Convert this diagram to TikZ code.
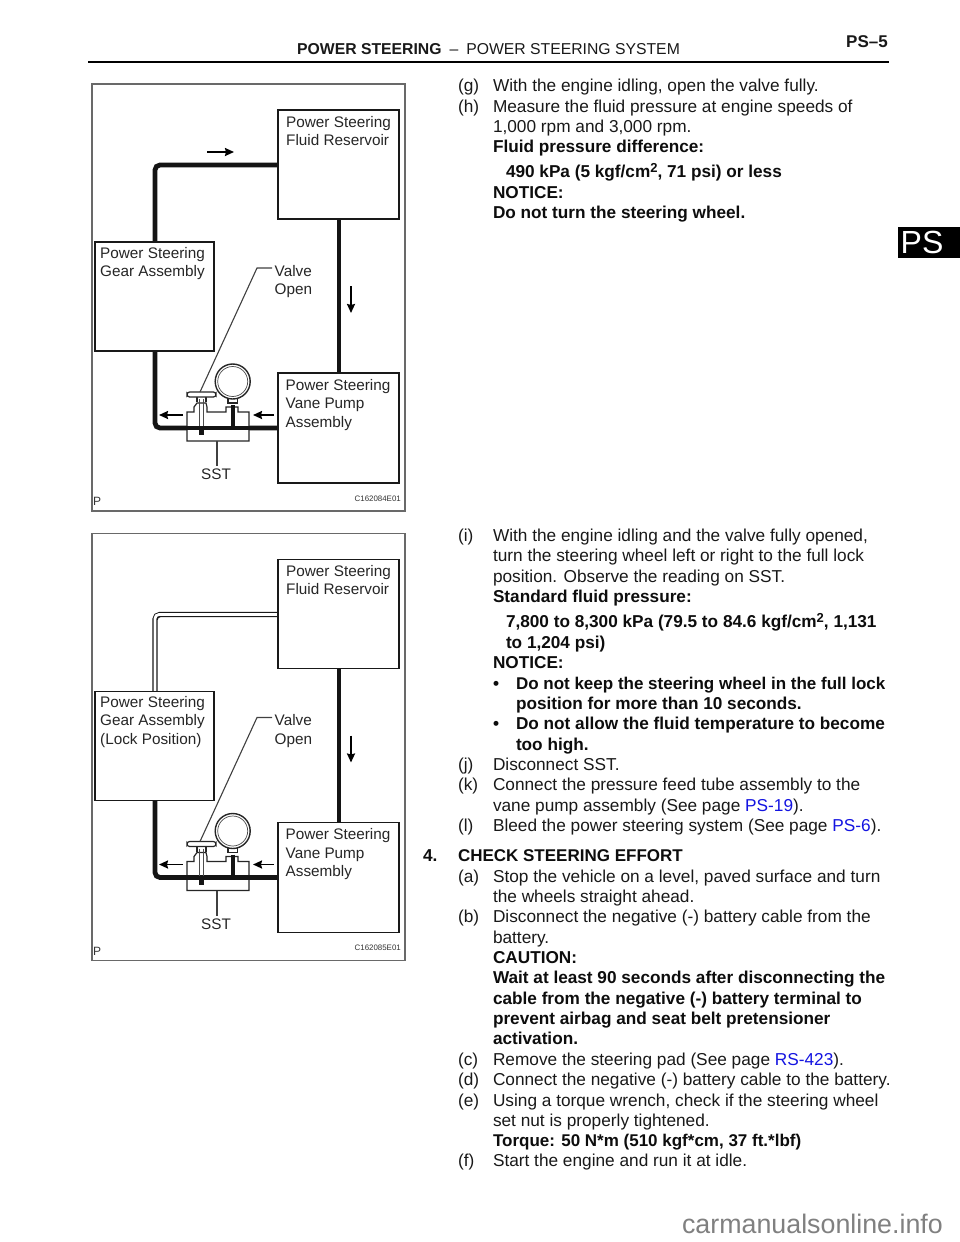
\documentclass[tikz,border=0pt]{standalone}
\usepackage{fontspec}
\setmainfont{Liberation Sans}
\usetikzlibrary{arrows.meta}
\definecolor{linkblue}{RGB}{20,20,225}
\definecolor{framegray}{RGB}{105,105,105}
\newcommand{\supertwo}{\raisebox{5.5pt}{\fontsize{13}{13}\selectfont 2}}
\tikzset{x=1pt,y=-1pt,
 tx/.style={anchor=base west,inner sep=0pt,outer sep=0pt,yshift=-0.5pt,text=black!90,font=\fontsize{17.25}{20}\selectfont},
 bx/.style={anchor=base west,inner sep=0pt,outer sep=0pt,yshift=-0.5pt,text=black!95,font=\fontsize{17.2}{20}\selectfont\bfseries},
 bn/.style={bx,font=\fontsize{17}{20}\selectfont\bfseries},
 lb/.style={anchor=base west,inner sep=0pt,font=\fontsize{15.3}{18}\selectfont,text=black!85},
 boxx/.style={draw=black!90,line width=1.7pt,fill=white,outer sep=0pt,inner sep=0pt,anchor=north west},
 pipe/.style={line width=4.8pt,black!92,rounded corners=5pt},
 thin/.style={line width=1.1pt,black!75},
 part/.style={line width=1.2pt,black!85},
 flow/.style={-{Stealth[length=9pt,width=8pt,inset=1pt]},line width=1.9pt,black}}
\newcommand{\diagram}[4]{% prefix, yoffset, upper pipe, gear third line
\begin{scope}[shift={(0,#2)}]
\node[draw=framegray,line width=1.2pt,minimum width=313pt,minimum height=427pt,anchor=north west,inner sep=0pt,outer sep=0pt] (#1frame) at (92,84) {};
\coordinate (#1resL) at (278,165);
\coordinate (#1corner1) at (155,165);
\coordinate (#1gearT) at (155,242);
\coordinate (#1gearB) at (155,351);
\coordinate (#1corner2) at (155,428);
\coordinate (#1pumpL) at (278,428);
\coordinate (#1resB) at (339,219);
\coordinate (#1pumpT) at (339,373);
#3
\draw[pipe] (#1gearB) -- (#1corner2) -- (#1pumpL);
\draw[line width=4.8pt,black!92] (#1resB) -- (#1pumpT);
\node[boxx,minimum width=121pt,minimum height=109pt] (#1res) at (278,110) {};
\node[boxx,minimum width=119pt,minimum height=109pt] (#1gear) at (95,242) {};
\node[boxx,minimum width=121pt,minimum height=110pt] (#1pump) at (278,373) {};
\node[lb] (#1r1) at (286,127) {Power Steering};
\node[lb] (#1r2) at (286,145) {Fluid Reservoir};
\node[lb] (#1g1) at (100,258) {Power Steering};
\node[lb] (#1g2) at (100,276) {Gear Assembly};
#4
\node[lb] (#1p1) at (285.5,390) {Power Steering};
\node[lb] (#1p2) at (285.5,408.5) {Vane Pump};
\node[lb] (#1p3) at (285.5,427) {Assembly};
\node[lb] (#1v1) at (274.5,276) {Valve};
\node[lb] (#1v2) at (274.5,294.5) {Open};
\node[lb] (#1sst) at (201,479.5) {SST};
\node[anchor=base west,inner sep=0pt,font=\fontsize{12}{12}\selectfont,text=black!80] (#1P) at (93,505.5) {P};
\node[anchor=base east,inner sep=0pt,font=\fontsize{7.9}{9}\selectfont,text=black!80] (#1code) at (401,501) {C16208#1E01};
% flow arrows
\coordinate (#1a2s) at (351,286); \coordinate (#1a2e) at (351,313);
\draw[flow] (#1a2s) -- (#1a2e);
\coordinate (#1a3s) at (183,415); \coordinate (#1a3e) at (159,415);
\draw[flow] (#1a3s) -- (#1a3e);
\coordinate (#1a4s) at (274,415); \coordinate (#1a4e) at (253,415);
\draw[flow] (#1a4s) -- (#1a4e);
% SST block
\draw[part,fill=white] (187,441) -- (187,412) -- (194,412) -- (194,407) -- (197,403) -- (206,403) -- (207,407) -- (207,412) -- (226,412) -- (226,407) -- (238,407) -- (238,412) -- (249,412) -- (249,441) -- cycle;
\draw[line width=4.8pt,black!92] (184,428) -- (254,428);
\fill[black!92] (199,428) rectangle (203.5,435);
\draw[line width=.9pt,black!70] (199.3,399) -- (199.3,426) (203.3,399) -- (203.3,426);
\draw[line width=4pt,black!92] (233,405) -- (233,428);
\draw[part] (197,397) -- (197,402) (206,397) -- (206,402);
\draw[part,fill=white,rounded corners=2.6pt] (187,392) rectangle (216,397);
\draw[part,fill=white] (228,398) rectangle (237.5,403);
\node[draw=black!85,line width=1.4pt,circle,minimum size=35pt,inner sep=0pt,fill=white] (#1gauge) at (232.7,381.5) {};
\node[draw=black!70,line width=.7pt,circle,minimum size=30pt,inner sep=0pt] (#1gaugein) at (232.7,381.5) {};
\coordinate (#1vl0) at (200,392); \coordinate (#1vl1) at (257,268); \coordinate (#1vl2) at (272,268);
\draw[thin] (#1vl0) -- (#1vl1) -- (#1vl2);
\coordinate (#1s0) at (217,441); \coordinate (#1s1) at (217,466);
\draw[thin] (#1s0) -- (#1s1);
\end{scope}}
\begin{document}
\begin{tikzpicture}
\useasboundingbox (0,0) rectangle (960,1242);
\fill[white] (0,0) rectangle (960,1242);
% header
\node[anchor=base west,inner sep=0pt,text=black!90,font=\fontsize{15.75}{18}\selectfont] (head) at (297,54) {\textbf{POWER STEERING}\hspace{8pt}–\hspace{8pt}POWER STEERING SYSTEM};
\node[anchor=base east,inner sep=0pt,text=black!90,font=\fontsize{17}{18}\selectfont\bfseries] (page) at (888,47) {PS–5};
\coordinate (ruleL) at (88,62); \coordinate (ruleR) at (889,62);
\draw[line width=2pt,black] (ruleL) -- (ruleR);
\node[fill=black,minimum width=62pt,minimum height=31pt,inner sep=0pt,outer sep=0pt,anchor=north west] (tab) at (898,227) {};
\node[anchor=base,inner sep=0pt,text=white,font=\fontsize{32}{34}\selectfont] (tabt) at (922,253.5) {PS};
\diagram{4}{0}{\draw[pipe] (4resL) -- (4corner1) -- (4gearT);\coordinate (4a1s) at (207,152); \coordinate (4a1e) at (234,152);\draw[flow] (4a1s) -- (4a1e);}{}
\diagram{5}{449.5}{\draw[line width=5.4pt,black!90,rounded corners=5pt] (5resL) -- (5corner1) -- (5gearT);\draw[line width=2.8pt,white,rounded corners=4pt] (5resL) -- (5corner1) -- (5gearT);}{\node[lb] (5g3) at (100,294.5) {(Lock Position)};}
% text right column
\node[tx] (t01) at (458,91) {(g)}; \node[tx] (t01b) at (493,91) {With the engine idling, open the valve fully.};
\node[tx] (t02) at (458,111.5) {(h)}; \node[tx] (t02b) at (493,111.5) {Measure the fluid pressure at engine speeds of};
\node[tx] (t03) at (493,132) {1,000 rpm and 3,000 rpm.};
\node[bx] (t04) at (493,152) {Fluid pressure difference:};
\node[bx] (t05) at (506,177) {490 kPa (5 kgf/cm\supertwo, 71 psi) or less};
\node[bx] (t06) at (493,197.5) {NOTICE:};
\node[bx] (t07) at (493,218) {Do not turn the steering wheel.};
\node[tx] (t11) at (458,541) {(i)}; \node[tx] (t11b) at (493,541) {With the engine idling and the valve fully opened,};
\node[tx] (t12) at (493,561) {turn the steering wheel left or right to the full lock};
\node[tx] (t13) at (493,581.5) {position. Observe the reading on SST.};
\node[bx] (t14) at (493,602) {Standard fluid pressure:};
\node[bx] (t15) at (506,627) {7,800 to 8,300 kPa (79.5 to 84.6 kgf/cm\supertwo, 1,131};
\node[bx] (t16) at (506,647.5) {to 1,204 psi)};
\node[bx] (t17) at (493,667.5) {NOTICE:};
\node[bx] (t18) at (493,688.5) {•}; \node[bn] (t18b) at (516,688.5) {Do not keep the steering wheel in the full lock};
\node[bx] (t19) at (516,708.5) {position for more than 10 seconds.};
\node[bx] (t20) at (493,729) {•}; \node[bx] (t20b) at (516,729) {Do not allow the fluid temperature to become};
\node[bx] (t21) at (516,749.5) {too high.};
\node[tx] (t22) at (458,769.5) {(j)}; \node[tx] (t22b) at (493,769.5) {Disconnect SST.};
\node[tx] (t23) at (458,790) {(k)}; \node[tx] (t23b) at (493,790) {Connect the pressure feed tube assembly to the};
\node[tx] (t24) at (493,810.5) {vane pump assembly (See page \textcolor{linkblue}{PS-19}).};
\node[tx] (t25) at (458,830.5) {(l)}; \node[tx] (t25b) at (493,830.5) {Bleed the power steering system (See page \textcolor{linkblue}{PS-6}).};
\node[bx] (t26) at (423,860.5) {4.}; \node[bn] (t26b) at (458,860.5) {CHECK STEERING EFFORT};
\node[tx] (t27) at (458,881.5) {(a)}; \node[tx] (t27b) at (493,881.5) {Stop the vehicle on a level, paved surface and turn};
\node[tx] (t28) at (493,902) {the wheels straight ahead.};
\node[tx] (t29) at (458,922) {(b)}; \node[tx] (t29b) at (493,922) {Disconnect the negative (-) battery cable from the};
\node[tx] (t30) at (493,942.5) {battery.};
\node[bx] (t31) at (493,962.5) {CAUTION:};
\node[bx] (t32) at (493,983) {Wait at least 90 seconds after disconnecting the};
\node[bx] (t33) at (493,1003.5) {cable from the negative (-) battery terminal to};
\node[bx] (t34) at (493,1023.5) {prevent airbag and seat belt pretensioner};
\node[bx] (t35) at (493,1044) {activation.};
\node[tx] (t36) at (458,1064.5) {(c)}; \node[tx] (t36b) at (493,1064.5) {Remove the steering pad (See page \textcolor{linkblue}{RS-423}).};
\node[tx] (t37) at (458,1085) {(d)}; \node[tx] (t37b) at (493,1085) {Connect the negative (-) battery cable to the battery.};
\node[tx] (t38) at (458,1105.5) {(e)}; \node[tx] (t38b) at (493,1105.5) {Using a torque wrench, check if the steering wheel};
\node[tx] (t39) at (493,1125.5) {set nut is properly tightened.};
\node[bn] (t40) at (493,1146) {Torque: 50 N*m (510 kgf*cm, 37 ft.*lbf)};
\node[tx] (t41) at (458,1166) {(f)}; \node[tx] (t41b) at (493,1166) {Start the engine and run it at idle.};
\node[anchor=base east,inner sep=0pt,text=black!50,font=\fontsize{26.8}{28}\selectfont] (foot) at (943,1233) {carmanualsonline.info};
\end{tikzpicture}
\end{document}
